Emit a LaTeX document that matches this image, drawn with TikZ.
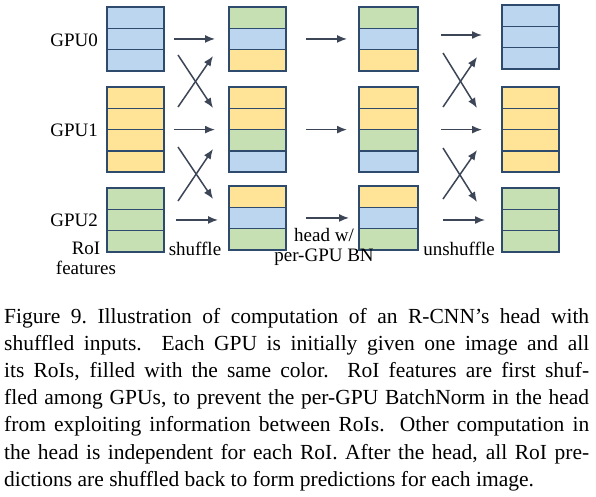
\documentclass[tikz,border=0pt]{standalone}
\usepackage{fontspec}
\setmainfont{Liberation Serif}
\usetikzlibrary{arrows.meta}
\definecolor{cblue}{HTML}{BDD6EF}
\definecolor{cyel}{HTML}{FFE497}
\definecolor{cgrn}{HTML}{C6E0B4}
\definecolor{cedge}{HTML}{2E4A6D}
\definecolor{carr}{HTML}{3C4657}
\newcommand\cellstack[5]{% name, x, ytop, width, colours
  \foreach \c [count=\i from 0] in {#5} {
    \node[cell,fill=\c,minimum width=#4pt] (#1-\i) at (#2,#3+\i*21.3) {};
  }}
\newcommand\capline[1]{\makebox[585pt][s]{#1}}
\begin{document}
\begin{tikzpicture}[x=1pt,y=-1pt,
  cell/.style={draw=cedge,line width=1.6pt,minimum height=21.3pt,inner sep=0pt,outer sep=0pt,anchor=north west},
  arr/.style={draw=carr,line width=1.5pt,-{Latex[length=10pt,width=8pt]}},
  lab/.style={font=\fontsize{19}{20}\selectfont,inner sep=0pt},
  capt/.style={font=\fontsize{21.5}{27}\selectfont,inner sep=0pt,anchor=base west}]
\useasboundingbox (0,0) rectangle (596,496);
% column 1: RoI features
\cellstack{a0}{107}{7}{57}{cblue,cblue,cblue}
\cellstack{a1}{107}{87}{57}{cyel,cyel,cyel,cyel}
\cellstack{a2}{107}{188}{57}{cgrn,cgrn,cgrn}
% column 2: shuffled
\cellstack{b0}{229}{7}{57}{cgrn,cblue,cyel}
\cellstack{b1}{229}{87}{57}{cyel,cyel,cgrn,cblue}
\cellstack{b2}{229}{186}{57}{cyel,cblue,cgrn}
% column 3: head
\cellstack{c0}{359}{7}{59}{cgrn,cblue,cyel}
\cellstack{c1}{359}{87}{59}{cyel,cyel,cgrn,cblue}
\cellstack{c2}{359}{186}{59}{cyel,cblue,cgrn}
% column 4: unshuffled
\cellstack{d0}{502}{5}{57}{cblue,cblue,cblue}
\cellstack{d1}{502}{87}{57}{cyel,cyel,cyel,cyel}
\cellstack{d2}{502}{188}{57}{cgrn,cgrn,cgrn}
% labels
\node[lab,anchor=east] (g0) at (98,40) {GPU0};
\node[lab,anchor=east] (g1) at (98,130) {GPU1};
\node[lab,anchor=east] (g2) at (98,220) {GPU2};
\node[lab,align=center] (roi) at (86,258) {RoI\\features};
\node[lab] (shuf) at (195,249) {shuffle};
\node[lab,align=center] (head) at (324,247) {head w/\\per-GPU BN};
\node[lab] (unshuf) at (459,249) {unshuffle};
% straight arrows
\draw[arr,shorten <=10pt,shorten >=14pt] (a0-1.east) -- (a0-1.east -| b0-1.west);
\draw[arr,shorten <=10pt,shorten >=14pt] (a1-1.south east) -- (b1-1.south west);
\draw[arr,shorten <=12pt,shorten >=11pt] (a2-1.east) -- (a2-1.east -| b2-1.west);
\draw[arr,shorten <=20pt,shorten >=12pt] (b0-1.east) -- (b0-1.east -| c0-1.west);
\draw[arr,shorten <=20pt,shorten >=12pt] (b1-1.south east) -- (c1-1.south west);
\draw[arr,shorten <=20pt,shorten >=10pt] (b2-1.east) -- (b2-1.east -| c2-1.west);
\draw[arr,shorten <=23pt,shorten >=20pt] (c0-1.east |- 0,35) -- (d0-1.west |- 0,35);
\draw[arr,shorten <=23pt,shorten >=20pt] (c1-1.south east) -- (d1-1.south west);
\draw[arr,shorten <=25pt,shorten >=17pt] (c2-1.east |- 0,220) -- (d2-1.west |- 0,220);
% crossing arrows (shuffle)
\coordinate (s1a) at (178,55);  \coordinate (s1b) at (213,108);
\coordinate (s2a) at (178,107); \coordinate (s2b) at (213,56);
\coordinate (s3a) at (178,147); \coordinate (s3b) at (213,199);
\coordinate (s4a) at (178,201); \coordinate (s4b) at (213,149);
\draw[arr] (s1a) -- (s1b);
\draw[arr] (s2a) -- (s2b);
\draw[arr] (s3a) -- (s3b);
\draw[arr] (s4a) -- (s4b);
% crossing arrows (unshuffle)
\coordinate (u1a) at (443,53);  \coordinate (u1b) at (477,108);
\coordinate (u2a) at (443,107); \coordinate (u2b) at (477,57);
\coordinate (u3a) at (443,148); \coordinate (u3b) at (477,202);
\coordinate (u4a) at (443,199); \coordinate (u4b) at (477,150);
\draw[arr] (u1a) -- (u1b);
\draw[arr] (u2a) -- (u2b);
\draw[arr] (u3a) -- (u3b);
\draw[arr] (u4a) -- (u4b);
% caption
\node[capt] (cap1) at (4,323) {\capline{Figure 9.\ Illustration of computation of an R-CNN's head with}};
\node[capt] (cap2) at (4,350.2) {\capline{shuffled inputs. Each GPU is initially given one image and all}};
\node[capt] (cap3) at (4,377.4) {\capline{its RoIs, filled with the same color. RoI features are first shuf-}};
\node[capt] (cap4) at (4,404.6) {\capline{fled among GPUs, to prevent the per-GPU BatchNorm in the head}};
\node[capt] (cap5) at (4,431.8) {\capline{from exploiting information between RoIs. Other computation in}};
\node[capt] (cap6) at (4,459) {\capline{the head is independent for each RoI.\ After the head, all RoI pre-}};
\node[capt] (cap7) at (4,486.2) {dictions are shuffled back to form predictions for each image.};
\end{tikzpicture}
\end{document}
